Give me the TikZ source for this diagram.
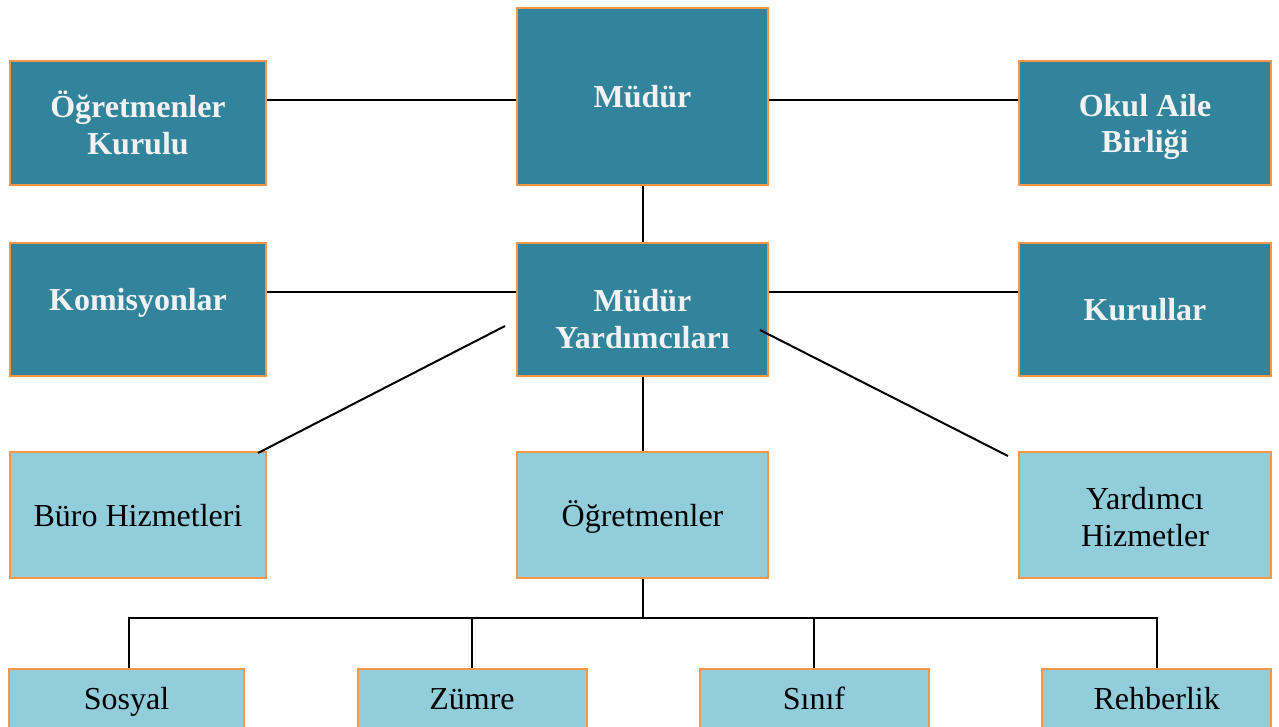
\documentclass[tikz,border=0pt]{standalone}
\usepackage{fontspec}
\setmainfont{Liberation Serif}
\definecolor{darkteal}{HTML}{31849B}
\definecolor{lightteal}{HTML}{92CDDC}
\definecolor{edgeor}{HTML}{F79646}
\definecolor{wtxt}{HTML}{F2F2F2}
\newcommand\tsrt{\rule{0pt}{30pt}}
\newcommand\bsrt{\rule[-8pt]{0pt}{8pt}}
\newcommand\bsrtb{\rule[-4pt]{0pt}{4pt}}
\begin{document}
\begin{tikzpicture}[x=1pt,y=-1pt]
\tikzset{
  box/.style={draw=edgeor, line width=2pt, inner sep=0pt, align=center,
    font=\fontsize{32}{36.7}\selectfont},
  darkbox/.style={box, fill=darkteal, text=wtxt, font=\bfseries\fontsize{32}{36.7}\selectfont},
  lightbox/.style={box, fill=lightteal, text=black},
  darktxt/.style={inner sep=0pt, align=center, text=wtxt, font=\bfseries\fontsize{32}{36.7}\selectfont},
  conn/.style={line width=2pt, black},
}
\clip (0,0) rectangle (1279,726);
\fill[white] (0,0) rectangle (1279,726);
% row 1
\node[darkbox, minimum width=256pt, minimum height=124pt] (ok) at (138,123) {\tsrt Öğretmenler\\Kurulu\bsrtb};
\node[darkbox, minimum width=251pt, minimum height=177pt] (mud) at (642.5,96.5) {\tsrt Müdür\bsrt};
\node[darkbox, minimum width=252pt, minimum height=124pt] (oab) at (1145,123) {\tsrt Okul Aile\\Birliği\bsrtb};
% row 2
\node[darkbox, minimum width=256pt, minimum height=133pt] (kom) at (138,309.5) {};
\node[darktxt] (tkom) at ([yshift=10.5pt]kom.center) {\tsrt Komisyonlar\bsrt};
\node[darkbox, minimum width=251pt, minimum height=133pt] (my) at (642.5,309.5) {};
\node[darktxt] (tmy) at ([yshift=-9.8pt]my.center) {\tsrt Müdür\\Yardımcıları\bsrt};
\node[darkbox, minimum width=252pt, minimum height=133pt] (kur) at (1145,309.5) {\tsrt Kurullar\bsrt};
% row 3
\node[lightbox, minimum width=256pt, minimum height=126pt] (buro) at (138,515) {\tsrt Büro Hizmetleri\bsrt};
\node[lightbox, minimum width=251pt, minimum height=126pt] (ogr) at (642.5,515) {\tsrt Öğretmenler\bsrt};
\node[lightbox, minimum width=252pt, minimum height=126pt] (yrd) at (1145,515) {\tsrt Yardımcı\\Hizmetler\bsrtb};
% row 4
\node[lightbox, minimum width=235pt, minimum height=59pt] (sos) at (126.5,698.5) {\tsrt Sosyal\bsrt};
\node[lightbox, minimum width=229pt, minimum height=59pt] (zum) at (472,698.5) {\tsrt Zümre\bsrt};
\node[lightbox, minimum width=229pt, minimum height=59pt] (sin) at (814,698.5) {\tsrt Sınıf\bsrt};
\node[lightbox, minimum width=229.5pt, minimum height=59pt] (reh) at (1156.7,698.5) {\tsrt Rehberlik\bsrt};
% connectors
\draw[conn] ([yshift=-3.5pt]mud.west) -- ([yshift=-3.5pt]mud.west -| ok.east);
\draw[conn] ([yshift=-3.5pt]mud.east) -- ([yshift=-3.5pt]mud.east -| oab.west);
\draw[conn] (mud) -- (my);
\draw[conn] ([yshift=17.5pt]my.west) -- ([yshift=17.5pt]my.west -| kom.east);
\draw[conn] ([yshift=17.5pt]my.east) -- ([yshift=17.5pt]my.east -| kur.west);
\draw[conn] (my) -- (ogr);
\coordinate (dl1) at (505,326);
\coordinate (dl2) at (258,453);
\coordinate (dr1) at (760,330);
\coordinate (dr2) at (1008,456);
\draw[conn] (dl1) -- (dl2);
\draw[conn] (dr1) -- (dr2);
\coordinate (bus) at ([yshift=-39pt]ogr.south);
\draw[conn] (ogr.south) -- (bus);
\draw[conn] ([xshift=2.5pt]sos.north) |- (reh.north |- bus) -- (reh.north);
\draw[conn] (zum.north) -- (zum.north |- bus);
\draw[conn] (sin.north) -- (sin.north |- bus);
\end{tikzpicture}
\end{document}
